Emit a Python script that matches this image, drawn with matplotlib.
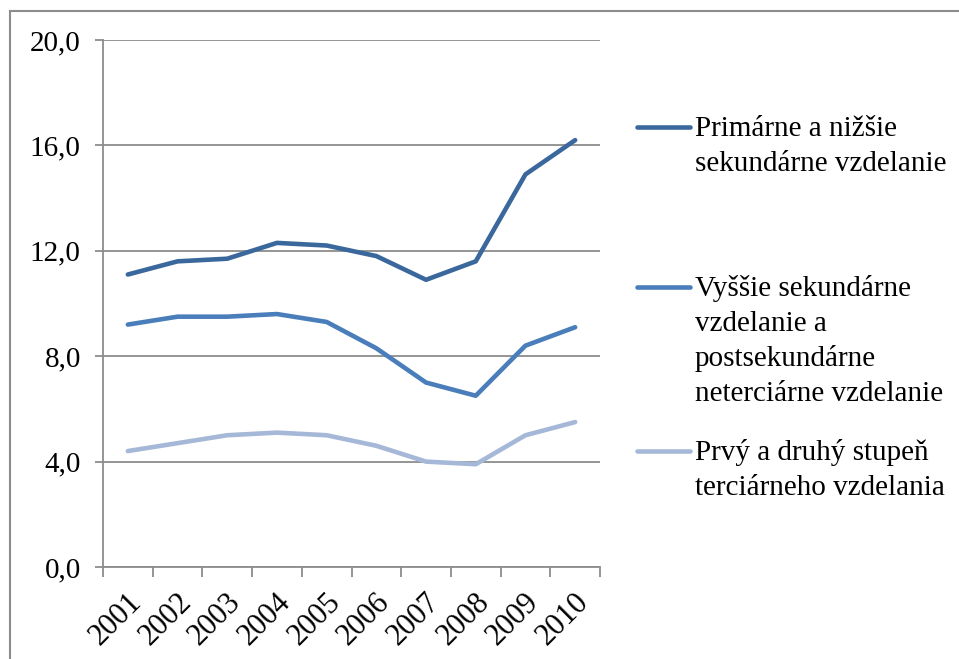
import matplotlib
matplotlib.use("Agg")
import matplotlib.pyplot as plt
from matplotlib.lines import Line2D
from matplotlib.patches import Rectangle
import matplotlib.transforms as mtransforms

years = ["2001", "2002", "2003", "2004", "2005", "2006", "2007", "2008", "2009", "2010"]
primary = [11.1, 11.6, 11.7, 12.3, 12.2, 11.8, 10.9, 11.6, 14.9, 16.2]
upper_sec = [9.2, 9.5, 9.5, 9.6, 9.3, 8.3, 7.0, 6.5, 8.4, 9.1]
tertiary = [4.4, 4.7, 5.0, 5.1, 5.0, 4.6, 4.0, 3.9, 5.0, 5.5]
labels = [["Primárne a nižšie", "sekundárne vzdelanie"],
          ["Vyššie sekundárne", "vzdelanie a", "postsekundárne", "neterciárne vzdelanie"],
          ["Prvý a druhý stupeň", "terciárneho vzdelania"]]
yticks = [0, 4, 8, 12, 16, 20]
colors = ["#3B689C", "#4A7EBB", "#A6B8D7"]

plt.rcParams['font.family'] = ['Liberation Serif', 'DejaVu Serif']
FS = 21

W, H = 959, 659
fig = plt.figure(figsize=(W / 100, H / 100), dpi=100)
ax = fig.add_axes([103 / W, (H - 567) / H, (600 - 103) / W, (567 - 40) / H])

x = list(range(len(years)))
for series, c in zip([primary, upper_sec, tertiary], colors):
    ax.plot(x, series, color=c, lw=3.3, solid_capstyle='round', solid_joinstyle='round', zorder=3)

ax.set_xlim(-0.5, len(years) - 0.5)
ax.set_ylim(0, 20)
ax.set_yticks(yticks)
ax.set_yticklabels([f"{v:.1f}".replace(".", ",") for v in yticks], fontsize=FS)
ax.yaxis.grid(True, color="#8C8C8C", lw=1.3)
ax.set_axisbelow(True)
for s in ["top", "right"]:
    ax.spines[s].set_visible(False)
for s in ["left", "bottom"]:
    ax.spines[s].set_color("#8C8C8C")
    ax.spines[s].set_linewidth(1.3)
ax.tick_params(axis='y', length=6, width=1.3, color="#8C8C8C", pad=10)

# x ticks at category boundaries, labels at centers
ax.set_xticks([i - 0.5 for i in range(len(years) + 1)])
ax.set_xticklabels([])
ax.tick_params(axis='x', which='major', length=7, width=1.3, color="#8C8C8C")
ax.set_xticks(x, minor=True)
ax.set_xticklabels(years, minor=True, rotation=45, ha='right', va='top',
                   rotation_mode='anchor', fontsize=FS + 1)
ax.tick_params(axis='x', which='minor', length=0, pad=15)
offset = mtransforms.ScaledTranslation(-1 / 100, 0, fig.dpi_scale_trans)
for lab in ax.get_xticklabels(minor=True):
    lab.set_transform(lab.get_transform() + offset)

# legend drawn manually (Excel-style uneven spacing)
entries_y = [127, 287, 451]
line_gap = 35
for lab_lines, c, yy in zip(labels, colors, entries_y):
    fy = (H - yy) / H
    fig.add_artist(Line2D([637 / W, 690 / W], [fy, fy], color=c, lw=3.3,
                          solid_capstyle='round', transform=fig.transFigure))
    for k, txt in enumerate(lab_lines):
        by = yy + 9 + k * line_gap
        fig.text(695 / W, (H - by) / H, txt, fontsize=FS, ha='left', va='baseline',
                 transform=fig.transFigure)

# outer border
fig.add_artist(Rectangle((10 / W, -0.01), 1.2, (H - 10.5) / H + 0.01, fill=False,
                         edgecolor="#8C8C8C", lw=1.5, transform=fig.transFigure))

fig.savefig("out.png", dpi=100)
